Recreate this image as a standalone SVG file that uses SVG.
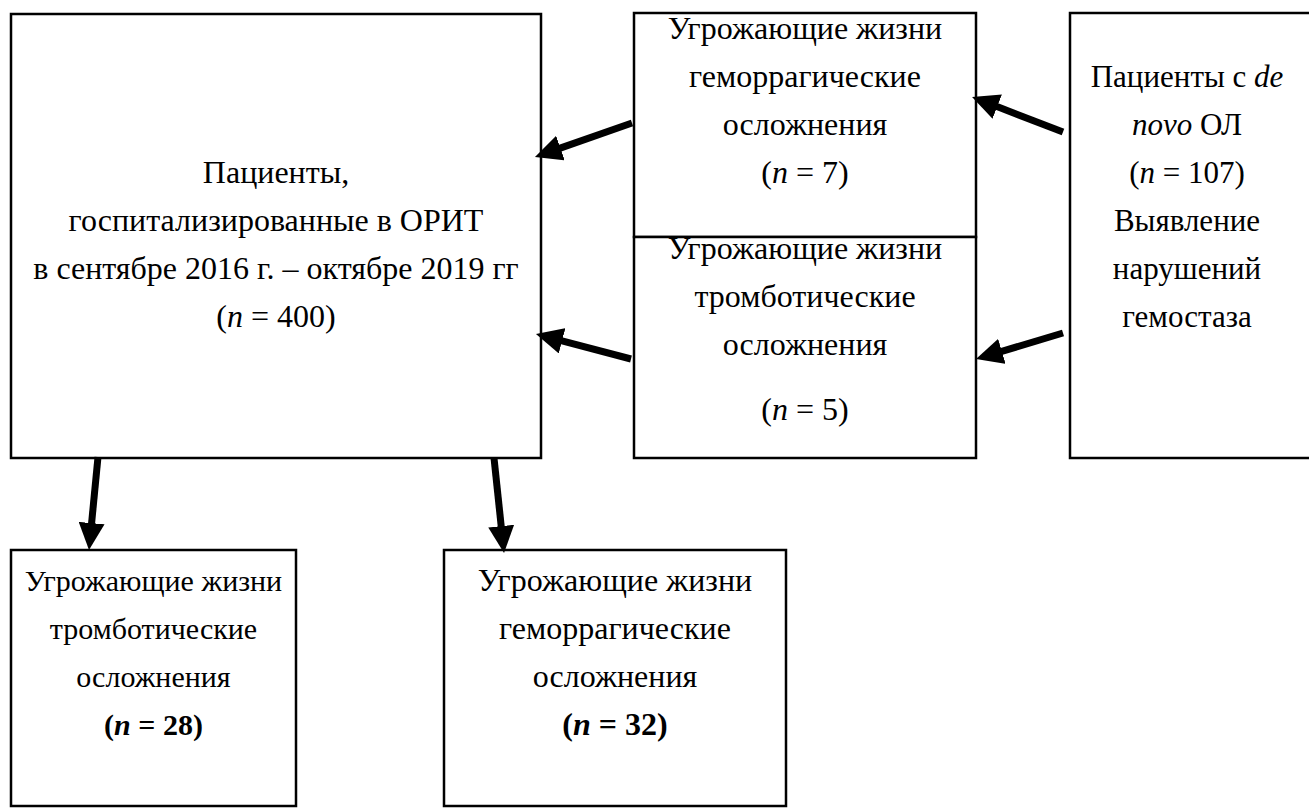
<svg xmlns="http://www.w3.org/2000/svg" width="1309" height="810" viewBox="0 0 1309 810">
<style>
.box{fill:#fff;stroke:#000;stroke-width:2.5}
text{font-family:"Liberation Serif","Times New Roman",serif;font-size:32px;fill:#000;text-anchor:middle}
.s31{font-size:31px}
.s30{font-size:30px}
.i{font-style:italic}
.b{font-weight:bold}
.arr{stroke:#000;stroke-width:7;fill:none;marker-end:url(#ah)}
</style>
<defs>
<marker id="ah" markerUnits="userSpaceOnUse" markerWidth="27" markerHeight="26" refX="1" refY="13" orient="auto" viewBox="0 0 27 26">
<path d="M0,0 L27,13 L0,26 z" fill="#000"/>
</marker>
</defs>
<rect width="1309" height="810" fill="#fff"/>
<g id="n-main">
<rect class="box" x="11" y="14" width="530" height="444"/>
<text x="276" y="183">Пациенты,</text>
<text x="276" y="231">госпитализированные в ОРИТ</text>
<text x="276" y="279">в сентябре 2016 г. – октябре 2019 гг</text>
<text x="276" y="327">(<tspan class="i">n</tspan> = 400)</text>
</g>
<g id="n-hem7">
<rect class="box" x="634" y="13" width="342" height="224"/>
<text x="805" y="39">Угрожающие жизни</text>
<text x="805" y="87">геморрагические</text>
<text x="805" y="135">осложнения</text>
<text x="805" y="183">(<tspan class="i">n</tspan> = 7)</text>
</g>
<g id="n-thr5">
<rect class="box" x="634" y="237" width="342" height="221"/>
<text x="805" y="259">Угрожающие жизни</text>
<text x="805" y="307">тромботические</text>
<text x="805" y="355">осложнения</text>
<text x="805" y="420">(<tspan class="i">n</tspan> = 5)</text>
</g>
<g id="n-denovo">
<rect class="box" x="1070" y="13" width="245" height="445"/>
<text class="s31" x="1187" y="87">Пациенты с <tspan class="i">de</tspan></text>
<text class="s31" x="1187" y="135"><tspan class="i">novo</tspan> ОЛ</text>
<text class="s31" x="1187" y="183">(<tspan class="i">n</tspan> = 107)</text>
<text class="s31" x="1187" y="231">Выявление</text>
<text class="s31" x="1187" y="279">нарушений</text>
<text class="s31" x="1187" y="327">гемостаза</text>
</g>
<g id="n-thr28">
<rect class="box" x="11" y="550" width="285" height="256"/>
<text class="s30" x="153.5" y="591">Угрожающие жизни</text>
<text class="s30" x="153.5" y="639">тромботические</text>
<text class="s30" x="153.5" y="687">осложнения</text>
<text class="s30 b" x="153.5" y="735">(<tspan class="i">n</tspan> = 28)</text>
</g>
<g id="n-hem32">
<rect class="box" x="444" y="550" width="342" height="256"/>
<text x="615" y="591">Угрожающие жизни</text>
<text x="615" y="639">геморрагические</text>
<text x="615" y="687">осложнения</text>
<text x="615" y="735" class="b">(<tspan class="i">n</tspan> = 32)</text>
</g>
<g id="connectors">
<line class="arr" x1="632" y1="123" x2="559.5" y2="148.4"/>
<line class="arr" x1="631" y1="359" x2="561.1" y2="340.6"/>
<line class="arr" x1="1063" y1="132" x2="996.3" y2="106.3"/>
<line class="arr" x1="1063" y1="333" x2="1000.9" y2="351.6"/>
<line class="arr" x1="98" y1="457" x2="91.5" y2="524.1"/>
<line class="arr" x1="494" y1="458" x2="501.3" y2="527.1"/>
</g>
</svg>
